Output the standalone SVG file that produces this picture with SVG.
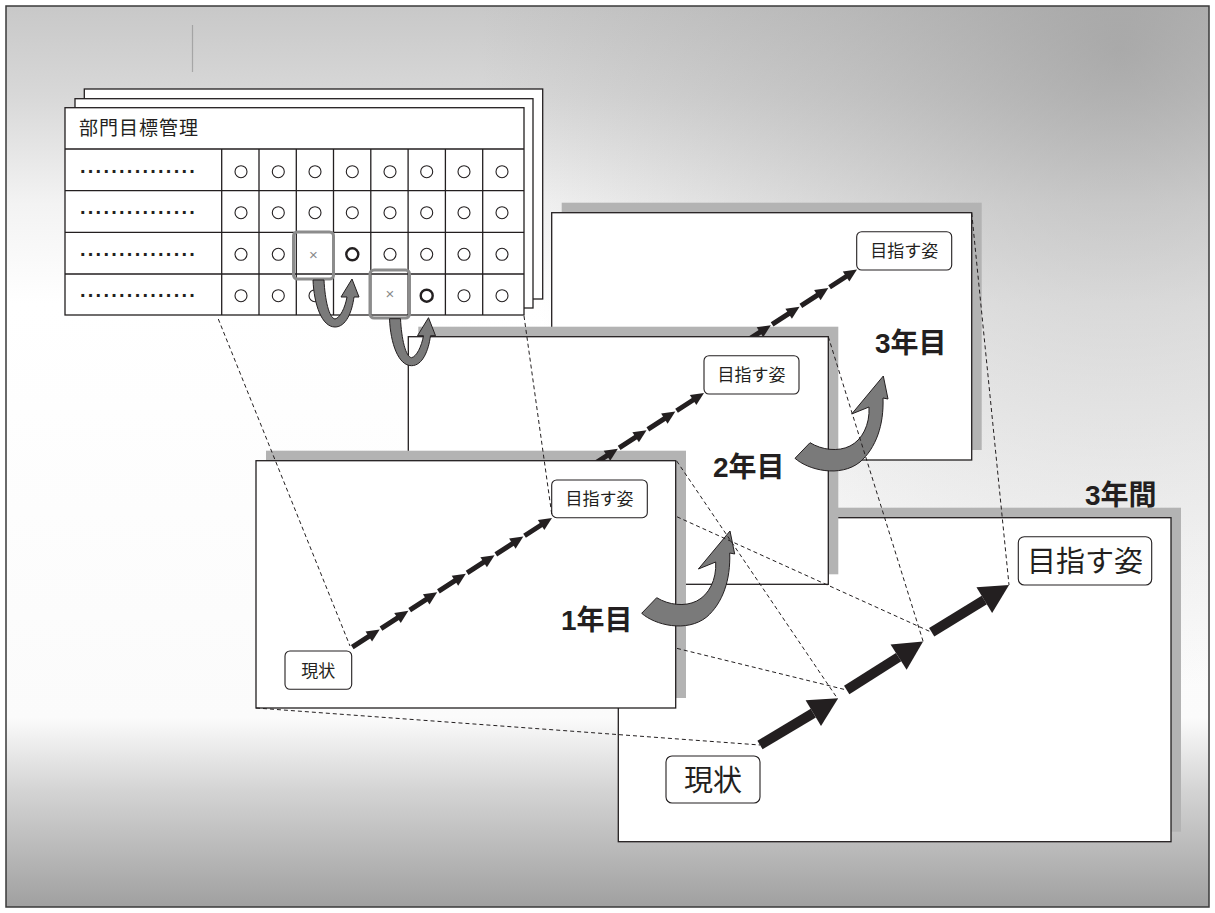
<svg xmlns="http://www.w3.org/2000/svg" width="1215" height="913" viewBox="0 0 1215 913">
<style>
.pg{fill:#fff;stroke:#231f20;stroke-width:1.3}
.grid{stroke:#231f20;stroke-width:1.3;fill:none}
.c{fill:none;stroke:#231f20;stroke-width:1.1}
.cb{fill:none;stroke:#231f20;stroke-width:2.4}
.hl{fill:none;stroke:#8c8c8c;stroke-width:3}
.x{font-family:"Liberation Sans",sans-serif;font-size:15px;fill:#8a8a8a;text-anchor:middle}
.dots{font-family:"Liberation Sans",sans-serif;font-size:20px;font-weight:bold;fill:#231f20;letter-spacing:2.25px}
.title{font-family:"Liberation Sans","Noto Sans CJK JP",sans-serif;font-size:19px;fill:#231f20;letter-spacing:1px}
.sh{fill:#b3b3b3}
.pn{fill:#fff;stroke:#231f20;stroke-width:1.3}
.box{fill:#fff;stroke:#231f20;stroke-width:1.1}
.lb{font-family:"Liberation Sans","Noto Sans CJK JP",sans-serif;font-size:17px;fill:#231f20;text-anchor:middle}
.lbb{font-family:"Liberation Sans","Noto Sans CJK JP",sans-serif;font-size:29px;fill:#231f20;text-anchor:middle}
.yr{font-family:"Liberation Sans","Noto Sans CJK JP",sans-serif;font-size:28px;font-weight:bold;fill:#231f20}
.chain{fill:none;stroke:#231f20;stroke-width:5;stroke-dasharray:20.7 13.5;stroke-dashoffset:32.7;marker-mid:url(#smallHead);marker-end:url(#smallHead)}
.big{stroke:#231f20;stroke-width:10;marker-end:url(#bigHead)}
.curv{fill:#7a7a7a;stroke:#231f20;stroke-width:1}
.dash{fill:none;stroke:#231f20;stroke-width:1;stroke-dasharray:4 3}
</style>
<defs>
<linearGradient id="bgV" x1="0" y1="0" x2="0" y2="1">
<stop offset="0" stop-color="#c8c8c8"/>
<stop offset="0.1" stop-color="#d8d8d8"/>
<stop offset="0.22" stop-color="#f3f3f3"/>
<stop offset="0.33" stop-color="#ffffff"/>
<stop offset="0.79" stop-color="#fbfbfb"/>
<stop offset="0.87" stop-color="#d4d4d4"/>
<stop offset="1" stop-color="#a0a0a0"/>
</linearGradient>
<radialGradient id="bgTR" cx="1120" cy="50" r="640" gradientUnits="userSpaceOnUse">
<stop offset="0" stop-color="#909090" stop-opacity="0.6"/>
<stop offset="0.45" stop-color="#9c9c9c" stop-opacity="0.35"/>
<stop offset="1" stop-color="#9c9c9c" stop-opacity="0"/>
</radialGradient>
<marker id="smallHead" markerUnits="userSpaceOnUse" markerWidth="14" markerHeight="12" refX="13" refY="6" orient="auto" overflow="visible"><path d="M0,0 L13,6 L0,12 Z" fill="#231f20"/></marker>
<marker id="bigHead" markerUnits="userSpaceOnUse" markerWidth="30" markerHeight="30" refX="0" refY="15" orient="auto" overflow="visible"><path d="M0,0 L29,15 L0,30 Z" fill="#231f20"/></marker>
<path id="chainPath" class="chain" d="M351,648 L379.71,629.43 L408.43,610.86 L437.14,592.29 L465.86,573.71 L494.57,555.14 L523.29,536.57 L552,518"/>
<path id="uArrow" class="curv" d="M313,280 C314,305 322,327 335,327 C346,327 352,312 354,297 L359,297 L352,279 L341,297 L347,297 C345,308 340,318 335,319 C329,318 325,300 324,280 Z"/>
<path id="yArrow" class="curv" d="M795,458.3 C808,470 840,478 860,462 C876,448 884,425 883,398 L888,399 L883.3,376 L851.7,414 L869,407 C870,425 862,440 850,446 C838,452 822,450 810,442.7 Z"/>
</defs>

<g id="background">
<rect x="6" y="6" width="1203" height="901" fill="url(#bgV)"/>
<rect x="6" y="6" width="1203" height="901" fill="url(#bgTR)"/>
<line x1="192.5" y1="25" x2="192.5" y2="72" stroke="#8a8a8a" stroke-width="1.2" opacity="0.6"/>
<rect x="6" y="6" width="1203" height="901" fill="none" stroke="#3a3a3a" stroke-width="1.5"/>
</g>

<g id="table">
<rect class="pg" x="84.3" y="89" width="458.4" height="210"/>
<rect class="pg" x="75" y="98.7" width="458" height="209.3"/>
<rect class="pg" x="65" y="107.7" width="459" height="207.3"/>
<text class="title" x="79" y="135">部門目標管理</text>
<g class="grid">
<path d="M65,149 H524 M65,190.7 H524 M65,232.3 H524 M65,274 H524"/>
<path d="M221.7,149 V315 M259,149 V315 M296.3,149 V315 M333.5,149 V315 M370.8,149 V315 M408.1,149 V315 M445.4,149 V315 M482.7,149 V315"/>
</g>
<text class="dots" x="80" y="173">...............</text>
<text class="dots" x="80" y="214">...............</text>
<text class="dots" x="80" y="256">...............</text>
<text class="dots" x="80" y="297">...............</text>
<g class="c">
<circle cx="241" cy="171.7" r="6"/><circle cx="278.3" cy="171.7" r="6"/><circle cx="315" cy="171.7" r="6"/><circle cx="352.3" cy="171.7" r="6"/><circle cx="390" cy="171.7" r="6"/><circle cx="426.7" cy="171.7" r="6"/><circle cx="464" cy="171.7" r="6"/><circle cx="502" cy="171.7" r="6"/>
<circle cx="241" cy="212.7" r="6"/><circle cx="278.3" cy="212.7" r="6"/><circle cx="315" cy="212.7" r="6"/><circle cx="352.3" cy="212.7" r="6"/><circle cx="390" cy="212.7" r="6"/><circle cx="426.7" cy="212.7" r="6"/><circle cx="464" cy="212.7" r="6"/><circle cx="502" cy="212.7" r="6"/>
<circle cx="241" cy="254.3" r="6"/><circle cx="278.3" cy="254.3" r="6"/><circle cx="390" cy="254.3" r="6"/><circle cx="426.7" cy="254.3" r="6"/><circle cx="464" cy="254.3" r="6"/><circle cx="502" cy="254.3" r="6"/>
<circle cx="241" cy="295.7" r="6"/><circle cx="278.3" cy="295.7" r="6"/><circle cx="315" cy="295.7" r="6"/><circle cx="464" cy="295.7" r="6"/><circle cx="502" cy="295.7" r="6"/>
</g>
<circle class="cb" cx="352.3" cy="254.3" r="6"/>
<circle class="cb" cx="426.7" cy="295.7" r="6"/>
<rect class="hl" x="293.5" y="232" width="40" height="47" rx="4"/>
<rect class="hl" x="370" y="270" width="39.5" height="48" rx="4"/>
<text class="x" x="313.5" y="260">×</text>
<text class="x" x="389.8" y="298.5">×</text>
</g>

<g id="panel-3years">
<rect class="sh" x="628.3" y="507.7" width="552.7" height="324"/>
<rect class="pn" x="618.3" y="517.7" width="552.7" height="324"/>
<rect class="box" x="1018.3" y="536.7" width="133.4" height="48.3" rx="6"/>
<text class="lbb" x="1085" y="572">目指す姿</text>
<rect class="box" x="666" y="756" width="94" height="47" rx="6"/>
<text class="lbb" x="713" y="790.5">現状</text>
<line class="big" x1="760" y1="745" x2="813.3" y2="713.1"/>
<line class="big" x1="846.7" y1="690" x2="898.6" y2="657.1"/>
<line class="big" x1="931.7" y1="632.3" x2="984.3" y2="600.1"/>
<text class="yr" x="1085" y="505">3年間</text>
</g>

<g id="panel-year3">
<rect class="sh" x="561.7" y="202.7" width="420" height="247.3"/>
<rect class="pn" x="551.7" y="212.7" width="420" height="247.3"/>
<rect class="box" x="856.7" y="231.7" width="95" height="38.3" rx="5"/>
<text class="lb" x="904.2" y="257.4">目指す姿</text>
<text class="yr" x="875" y="353">3年目</text>
</g>

<g id="panel-year2">
<rect class="sh" x="418.3" y="326.7" width="420" height="247.6"/>
<use href="#chainPath" transform="translate(305,-248.5)"/>
<rect class="pn" x="408.3" y="336.7" width="420" height="247.6"/>
<rect class="box" x="704" y="355.7" width="95" height="38.3" rx="5"/>
<text class="lb" x="751.5" y="381.4">目指す姿</text>
<text class="yr" x="713" y="477">2年目</text>
</g>

<g id="panel-year1">
<rect class="sh" x="266" y="450.7" width="420" height="247.3"/>
<use href="#chainPath" transform="translate(152,-125)"/>
<rect class="pn" x="256" y="460.7" width="419.7" height="247.3"/>
<rect class="box" x="551.7" y="480" width="95.6" height="37.7" rx="5"/>
<text class="lb" x="599.5" y="505.3">目指す姿</text>
<rect class="box" x="285" y="651" width="66.7" height="38.3" rx="5"/>
<text class="lb" x="318.3" y="676.7">現状</text>
<use href="#chainPath"/>
<text class="yr" x="561" y="630">1年目</text>
</g>

<g id="curved-arrows">
<use href="#uArrow"/>
<use href="#uArrow" transform="translate(76.5,38.7)"/>
<use href="#yArrow"/>
<use href="#yArrow" transform="translate(-153.3,155)"/>
</g>

<g id="connectors">
<line class="dash" x1="218.3" y1="319" x2="350" y2="646"/>
<line class="dash" x1="524" y1="316" x2="552" y2="516"/>
<line class="dash" x1="256" y1="708" x2="760" y2="745"/>
<line class="dash" x1="676.7" y1="461" x2="837.3" y2="698.3"/>
<line class="dash" x1="677" y1="648.4" x2="846.7" y2="690"/>
<line class="dash" x1="828.3" y1="336.7" x2="923.3" y2="642"/>
<line class="dash" x1="677" y1="516.8" x2="931.7" y2="632.3"/>
<line class="dash" x1="971.7" y1="213" x2="1009" y2="585"/>
</g>
</svg>
